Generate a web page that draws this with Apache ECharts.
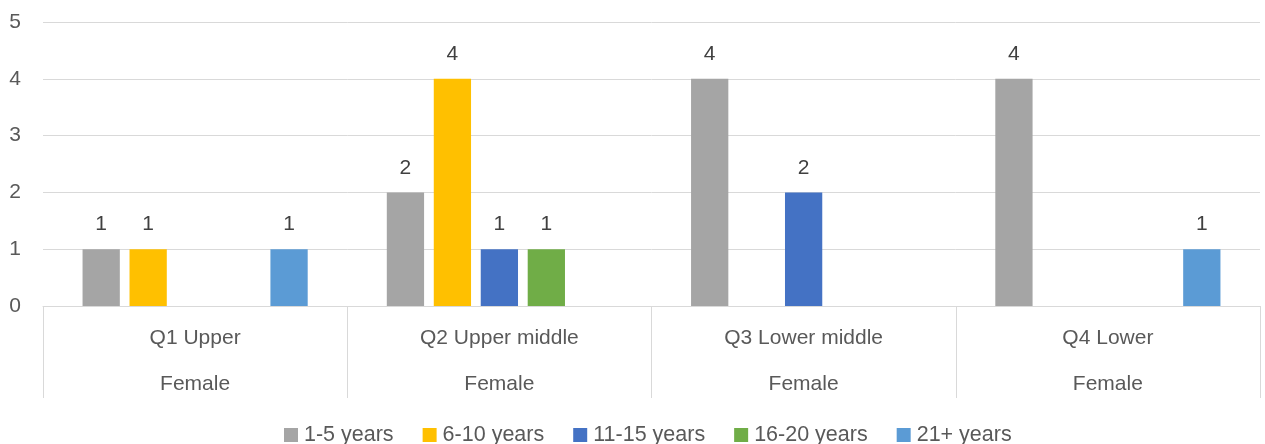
<!DOCTYPE html>
<html>
<head>
<meta charset="utf-8">
<script src="https://cdn.jsdelivr.net/npm/echarts@6/dist/echarts.min.js"></script>
<style>html,body{margin:0;padding:0;background:#fff}#c{width:1265px;height:444px}</style>
</head>
<body>
<div id="c"></div>
<script>
const categories = ['Q1 Upper', 'Q2 Upper middle', 'Q3 Lower middle', 'Q4 Lower'];
const groupLabels = ['Female', 'Female', 'Female', 'Female'];
const seriesNames = ['1-5 years', '6-10 years', '11-15 years', '16-20 years', '21+ years'];
const s1to5 = [1, 2, 4, 4];
const s6to10 = [1, 4, null, null];
const s11to15 = [null, 1, 2, null];
const s16to20 = [null, 1, null, null];
const s21plus = [1, null, null, 1];
const colors = ['#A5A5A5', '#FFC000', '#4472C4', '#70AD47', '#5B9BD5'];
const yTicks = [0, 1, 2, 3, 4, 5];

const FONT = '"Liberation Sans", "DejaVu Sans", sans-serif';
const allData = [s1to5, s6to10, s11to15, s16to20, s21plus];

const chart = echarts.init(document.getElementById('c'));
chart.setOption({
  animation: false,
  textStyle: { fontFamily: FONT },
  grid: { left: 43, right: 5, top: 22, bottom: 138, containLabel: false },
  legend: {
    top: 419,
    left: 279,
    itemWidth: 14,
    itemHeight: 14,
    itemGap: 29,
    icon: 'rect',
    textStyle: { fontSize: 21.5, color: '#595959', fontFamily: FONT, padding: [0, 0, 0, 1] },
    data: seriesNames
  },
  xAxis: {
    type: 'category',
    data: categories.map((c, i) => c + '\n' + groupLabels[i]),
    axisLine: { show: true, lineStyle: { color: '#D9D9D9', width: 1 } },
    axisTick: { show: true, length: 92, lineStyle: { color: '#D9D9D9', width: 1 } },
    axisLabel: { fontSize: 21, color: '#595959', lineHeight: 46, margin: 9, fontFamily: FONT }
  },
  yAxis: {
    type: 'value',
    min: yTicks[0],
    max: yTicks[yTicks.length - 1],
    interval: 1,
    axisLine: { show: false },
    axisTick: { show: false },
    axisLabel: { fontSize: 21, color: '#595959', margin: 22, fontFamily: FONT },
    splitLine: { lineStyle: { color: '#D9D9D9', width: 1 } }
  },
  series: seriesNames.map((n, i) => ({
    name: n,
    type: 'bar',
    data: allData[i],
    barGap: '26%',
    barCategoryGap: '26%',
    itemStyle: { color: colors[i] },
    label: { show: true, position: 'top', distance: 14, fontSize: 21, color: '#404040', fontFamily: FONT }
  }))
});
</script>
</body>
</html>
